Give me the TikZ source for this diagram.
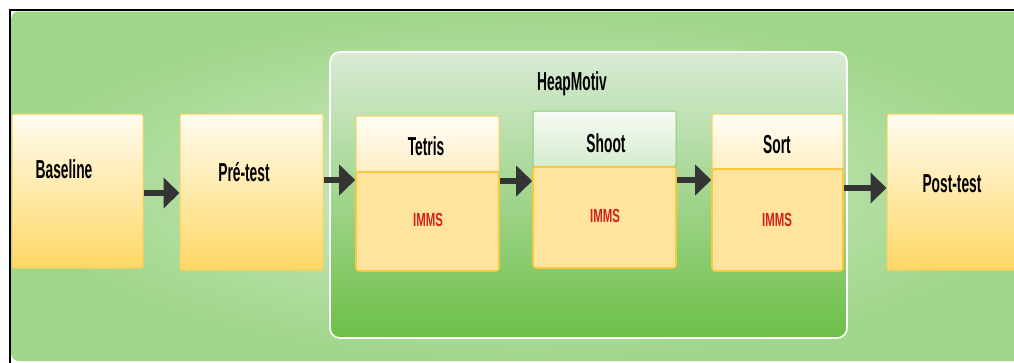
\documentclass[tikz,border=0pt]{standalone}
\usepackage{fontspec}
\setmainfont{Liberation Sans}
\newfontfamily\lblfont[FakeStretch=0.53]{Liberation Sans}
\newfontfamily\smlfont[FakeStretch=0.6]{Liberation Sans}
\usetikzlibrary{arrows.meta,calc}

\definecolor{bgin}{RGB}{212,236,205}
\definecolor{bgout}{RGB}{160,214,138}
\definecolor{heaptop}{RGB}{216,235,212}
\definecolor{heapbot}{RGB}{108,191,72}
\definecolor{goldtop}{RGB}{255,252,240}
\definecolor{goldbot}{RGB}{254,215,100}
\definecolor{goldline}{RGB}{250,210,90}
\definecolor{paletop}{RGB}{255,253,245}
\definecolor{palebot}{RGB}{254,238,196}
\definecolor{immsfill}{RGB}{254,228,156}
\definecolor{immsline}{RGB}{249,200,60}
\definecolor{leaftop}{RGB}{246,251,244}
\definecolor{leafbot}{RGB}{213,235,205}
\definecolor{leafline}{RGB}{140,204,115}
\definecolor{immsred}{RGB}{212,32,28}
\definecolor{arrowgray}{RGB}{52,52,52}

\tikzset{
  stagebox/.style={draw=goldline, line width=1pt, rounded corners=2pt,
    top color=goldtop, bottom color=goldbot, inner sep=0pt},
  headbox/.style={draw=goldline, line width=1pt, rounded corners=2pt,
    top color=paletop, bottom color=palebot, inner sep=0pt, minimum width=143pt, minimum height=56pt},
  greenhead/.style={draw=leafline, line width=1pt, rounded corners=2pt,
    top color=leaftop, bottom color=leafbot, inner sep=0pt, minimum width=143pt, minimum height=56pt},
  bodybox/.style={draw=immsline, line width=1.6pt, rounded corners=3pt,
    fill=immsfill, inner sep=0pt, minimum width=143pt},
  bigtext/.style={anchor=base, inner sep=0pt, font=\lblfont\bfseries\fontsize{26}{31}\selectfont},
  immstext/.style={anchor=base, inner sep=0pt, text=immsred, font=\smlfont\bfseries\fontsize{19}{23}\selectfont},
  flow/.style={draw=arrowgray, line width=6.5pt,
    -{Triangle[length=16pt, width=30pt, fill=arrowgray]}},
}

\begin{document}
\begin{tikzpicture}[x=1pt, y=-1pt]
  \clip (0,0) rectangle (1014,362);
  \fill[white] (0,0) rectangle (1014,362);

  % frame and shaded background
  \draw[black, line width=2pt] (10,370) -- (10,10) -- (1030,10);
  \shade[inner color=bgin, outer color=bgout, rounded corners=7pt]
    (11.5,11.5) rectangle (1040,361);

  % HeapMotiv container
  \node[draw=white, line width=1.6pt, rounded corners=10pt,
        top color=heaptop, bottom color=heapbot,
        minimum width=517pt, minimum height=286pt, inner sep=0pt]
        (heap) at (588.5,195) {};
  \node[bigtext] (heapLbl) at (572,90) {HeapMotiv};

  % stages outside the container
  \node[stagebox, minimum width=131pt, minimum height=154pt] (baseline) at (77.5,191) {};
  \node[stagebox, minimum width=143pt, minimum height=156pt] (pretest) at (251.5,192) {};
  \node[stagebox, minimum width=153pt, minimum height=156pt] (posttest) at (963.5,192) {};

  % games inside the container
  \node[headbox] (tetrisT) at (427.5,144) {};
  \node[bodybox, minimum height=99pt] (tetrisB) at (427.5,221.5) {};
  \node[greenhead] (shootT) at (604.5,139) {};
  \node[bodybox, minimum height=101pt] (shootB) at (604.5,217.5) {};
  \node[headbox, minimum width=131pt, minimum height=55pt] (sortT) at (777.5,141.5) {};
  \node[bodybox, minimum width=131pt, minimum height=102pt] (sortB) at (777.5,220) {};

  % labels
  \node[bigtext] (baselineLbl) at (64,178) {Baseline};
  \node[bigtext] (pretestLbl) at (244,181.5) {Pré-test};
  \node[bigtext] (posttestLbl) at (952,192) {Post-test};
  \node[bigtext] (tetrisLbl) at (426,155) {Tetris};
  \node[bigtext] (shootLbl) at (606,152) {Shoot};
  \node[bigtext] (sortLbl) at (777,153) {Sort};
  \node[immstext] (tetrisImms) at (428,226) {IMMS};
  \node[immstext] (shootImms) at (605,222) {IMMS};
  \node[immstext] (sortImms) at (777,226) {IMMS};

  % flow arrows
  \draw[flow] ([yshift=-2pt]baseline.east) -- ([yshift=-2pt]baseline.east -| pretest.west);
  \draw[flow] ([yshift=12pt]pretest.east) -- ([yshift=12pt]pretest.east -| tetrisB.west);
  \draw[flow] ([yshift=40.5pt]tetrisB.east) -- ([yshift=40.5pt]tetrisB.east -| shootB.west);
  \draw[flow] ([yshift=37.5pt]shootB.east) -- ([yshift=37.5pt]shootB.east -| sortB.west);
  \draw[flow] ([yshift=32pt]sortB.east) -- ([yshift=32pt]sortB.east -| posttest.west);
\end{tikzpicture}
\end{document}
